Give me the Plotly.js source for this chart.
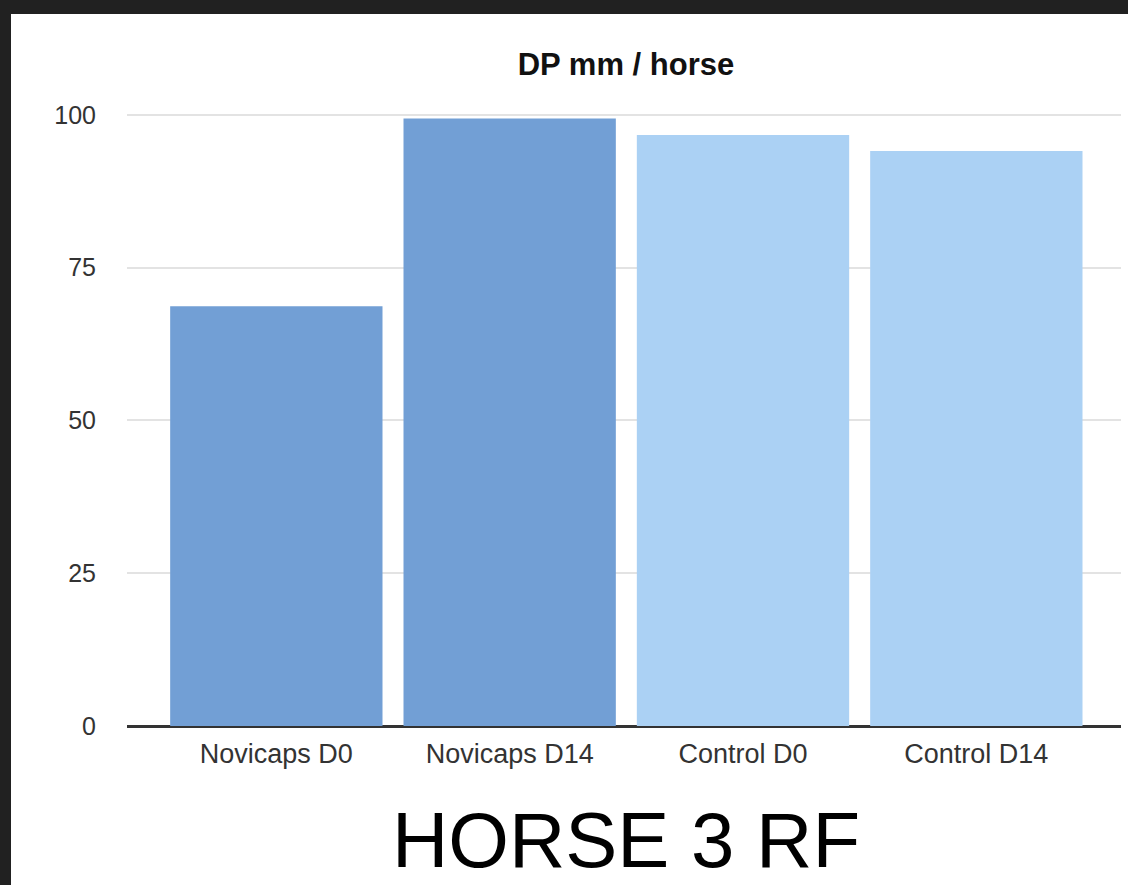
<!DOCTYPE html>
<html>
<head>
<meta charset="utf-8">
<script src="https://cdn.plot.ly/plotly-3.0.1.min.js"></script>
<style>
  html, body { margin: 0; padding: 0; background: #212121; width: 1128px; height: 885px; overflow: hidden; }
  #chart { position: absolute; left: 11px; top: 14px; width: 1117px; height: 871px; background: #fff; }
</style>
</head>
<body>
<div id="chart"></div>
<script>
// --- datos ---
const categories = ['Novicaps D0', 'Novicaps D14', 'Control D0', 'Control D14'];
const dpValues = [68.7, 99.4, 96.7, 94.1];
const groups = ['Novicaps', 'Novicaps', 'Control', 'Control'];
const yTicks = [0, 25, 50, 75, 100];

const groupColors = { Novicaps: '#729fd5', Control: '#abd1f4' };

const trace = {
    type: 'bar',
    x: categories,
    y: dpValues,
    marker: { color: groups.map(g => groupColors[g]) },
    hoverinfo: 'x+y',
    showlegend: false
};

const layout = {
    width: 1117,
    height: 871,
    margin: { l: 116, r: 7, t: 99, b: 159 },
    paper_bgcolor: '#fff',
    plot_bgcolor: '#fff',
    bargap: 0.09,
    font: { family: 'Liberation Sans, Arial, sans-serif', color: '#333' },
    title: {
        text: '<b>DP mm / horse</b>',
        font: { size: 31, color: '#111' },
        x: 0.502, xref: 'paper', xanchor: 'center',
        y: 1 - 50 / 871, yref: 'container', yanchor: 'middle'
    },
    xaxis: {
        range: [-0.64, 3.62],
        showgrid: false,
        showline: false,
        ticks: '',
        tickfont: { size: 27, color: '#333' },
        ticklabelstandoff: 9
    },
    yaxis: {
        range: [0, 100.3],
        tickvals: yTicks,
        showgrid: true,
        gridcolor: '#e3e3e3',
        gridwidth: 2,
        zeroline: true,
        zerolinecolor: '#333',
        zerolinewidth: 3,
        showline: false,
        ticks: '',
        tickfont: { size: 25, color: '#333' },
        ticklabelstandoff: 30
    },
    annotations: [{
        text: 'HORSE 3 RF',
        xref: 'paper', yref: 'paper',
        x: 0.502, y: (712 - 826) / 613,
        xanchor: 'center', yanchor: 'middle',
        showarrow: false,
        font: { size: 78, color: '#000' }
    }]
};

Plotly.newPlot('chart', [trace], layout, { displayModeBar: false, staticPlot: true });
</script>
</body>
</html>
